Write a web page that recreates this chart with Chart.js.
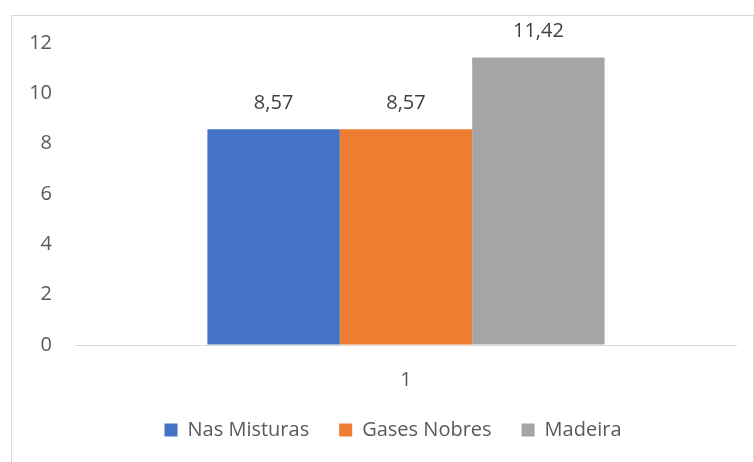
<!DOCTYPE html>
<html lang="pt">
<head>
    <meta charset="UTF-8">
    <title>Gráfico de colunas</title>
    <script src="https://cdn.jsdelivr.net/npm/chart.js@4"></script>
    <style>
        html, body {
            margin: 0;
            padding: 0;
            background: #ffffff;
        }
        #wrap {
            width: 754px;
            height: 462px;
        }
    </style>
</head>
<body>
    <div id="wrap"><canvas id="myChart" width="754" height="462"></canvas></div>

    <script>
        // dados
        const categorias = ['1'];
        const series = ['Nas Misturas', 'Gases Nobres', 'Madeira'];
        const nasMisturas = [8.57];
        const gasesNobres = [8.57];
        const madeira = [11.42];
        const ticksY = [0, 2, 4, 6, 8, 10, 12];

        const cores = ['#4472C4', '#ED7D31', '#A5A5A5'];
        const fonte = "'Open Sans', sans-serif";

        // moldura cinza à volta do gráfico
        const moldura = {
            id: 'moldura',
            beforeDraw(chart) {
                const c = chart.ctx;
                c.save();
                c.strokeStyle = '#d9d9d9';
                c.lineWidth = 1;
                c.strokeRect(11.5, 15.5, 742, 460);
                c.restore();
            }
        };

        // a legenda fica centrada como no Excel (um pouco à direita)
        const legendaDesvio = {
            id: 'legendaDesvio',
            afterLayout(chart) {
                if (chart.legend) {
                    chart.legend.left += 24.5;
                    chart.legend.right += 24.5;
                }
            }
        };

        // rótulos de valor por cima das barras (vírgula decimal)
        const rotulos = {
            id: 'rotulos',
            afterDatasetsDraw(chart) {
                const c = chart.ctx;
                c.save();
                c.font = '20px ' + fonte;
                c.fillStyle = '#404040';
                c.textAlign = 'center';
                c.textBaseline = 'middle';
                chart.data.datasets.forEach((ds, i) => {
                    chart.getDatasetMeta(i).data.forEach((bar, j) => {
                        const txt = ds.data[j].toFixed(2).replace('.', ',');
                        c.fillText(txt, bar.x, bar.y - 26);
                    });
                });
                c.restore();
            }
        };

        const ctx = document.getElementById('myChart').getContext('2d');
        new Chart(ctx, {
            type: 'bar',
            data: {
                labels: categorias,
                datasets: [
                    { label: series[0], data: nasMisturas, backgroundColor: cores[0] },
                    { label: series[1], data: gasesNobres, backgroundColor: cores[1] },
                    { label: series[2], data: madeira, backgroundColor: cores[2] }
                ]
            },
            options: {
                responsive: false,
                animation: false,
                layout: {
                    padding: { top: 43, right: 17, bottom: 12, left: 0 }
                },
                datasets: {
                    bar: { categoryPercentage: 0.6, barPercentage: 1.0 }
                },
                scales: {
                    x: {
                        grid: { display: false },
                        border: { display: false },
                        ticks: {
                            color: '#595959',
                            font: { family: fonte, size: 20 },
                            padding: 15
                        },
                        afterFit(scale) { scale.height = 45; }
                    },
                    y: {
                        min: 0,
                        max: 12,
                        afterBuildTicks(scale) {
                            scale.ticks = ticksY.map(v => ({ value: v }));
                        },
                        border: { display: false },
                        grid: {
                            drawTicks: false,
                            color: (c) => c.tick && c.tick.value === 0 ? '#d9d9d9' : 'rgba(0,0,0,0)',
                            lineWidth: 1
                        },
                        ticks: {
                            color: '#595959',
                            font: { family: fonte, size: 20 },
                            padding: 23
                        },
                        afterFit(scale) { scale.width = 75; }
                    }
                },
                plugins: {
                    tooltip: { enabled: false },
                    legend: {
                        position: 'bottom',
                        labels: {
                            color: '#595959',
                            font: { family: fonte, size: 20 },
                            boxWidth: 13,
                            boxHeight: 13,
                            padding: 30
                        }
                    }
                }
            },
            plugins: [moldura, legendaDesvio, rotulos]
        });
    </script>
</body>
</html>
